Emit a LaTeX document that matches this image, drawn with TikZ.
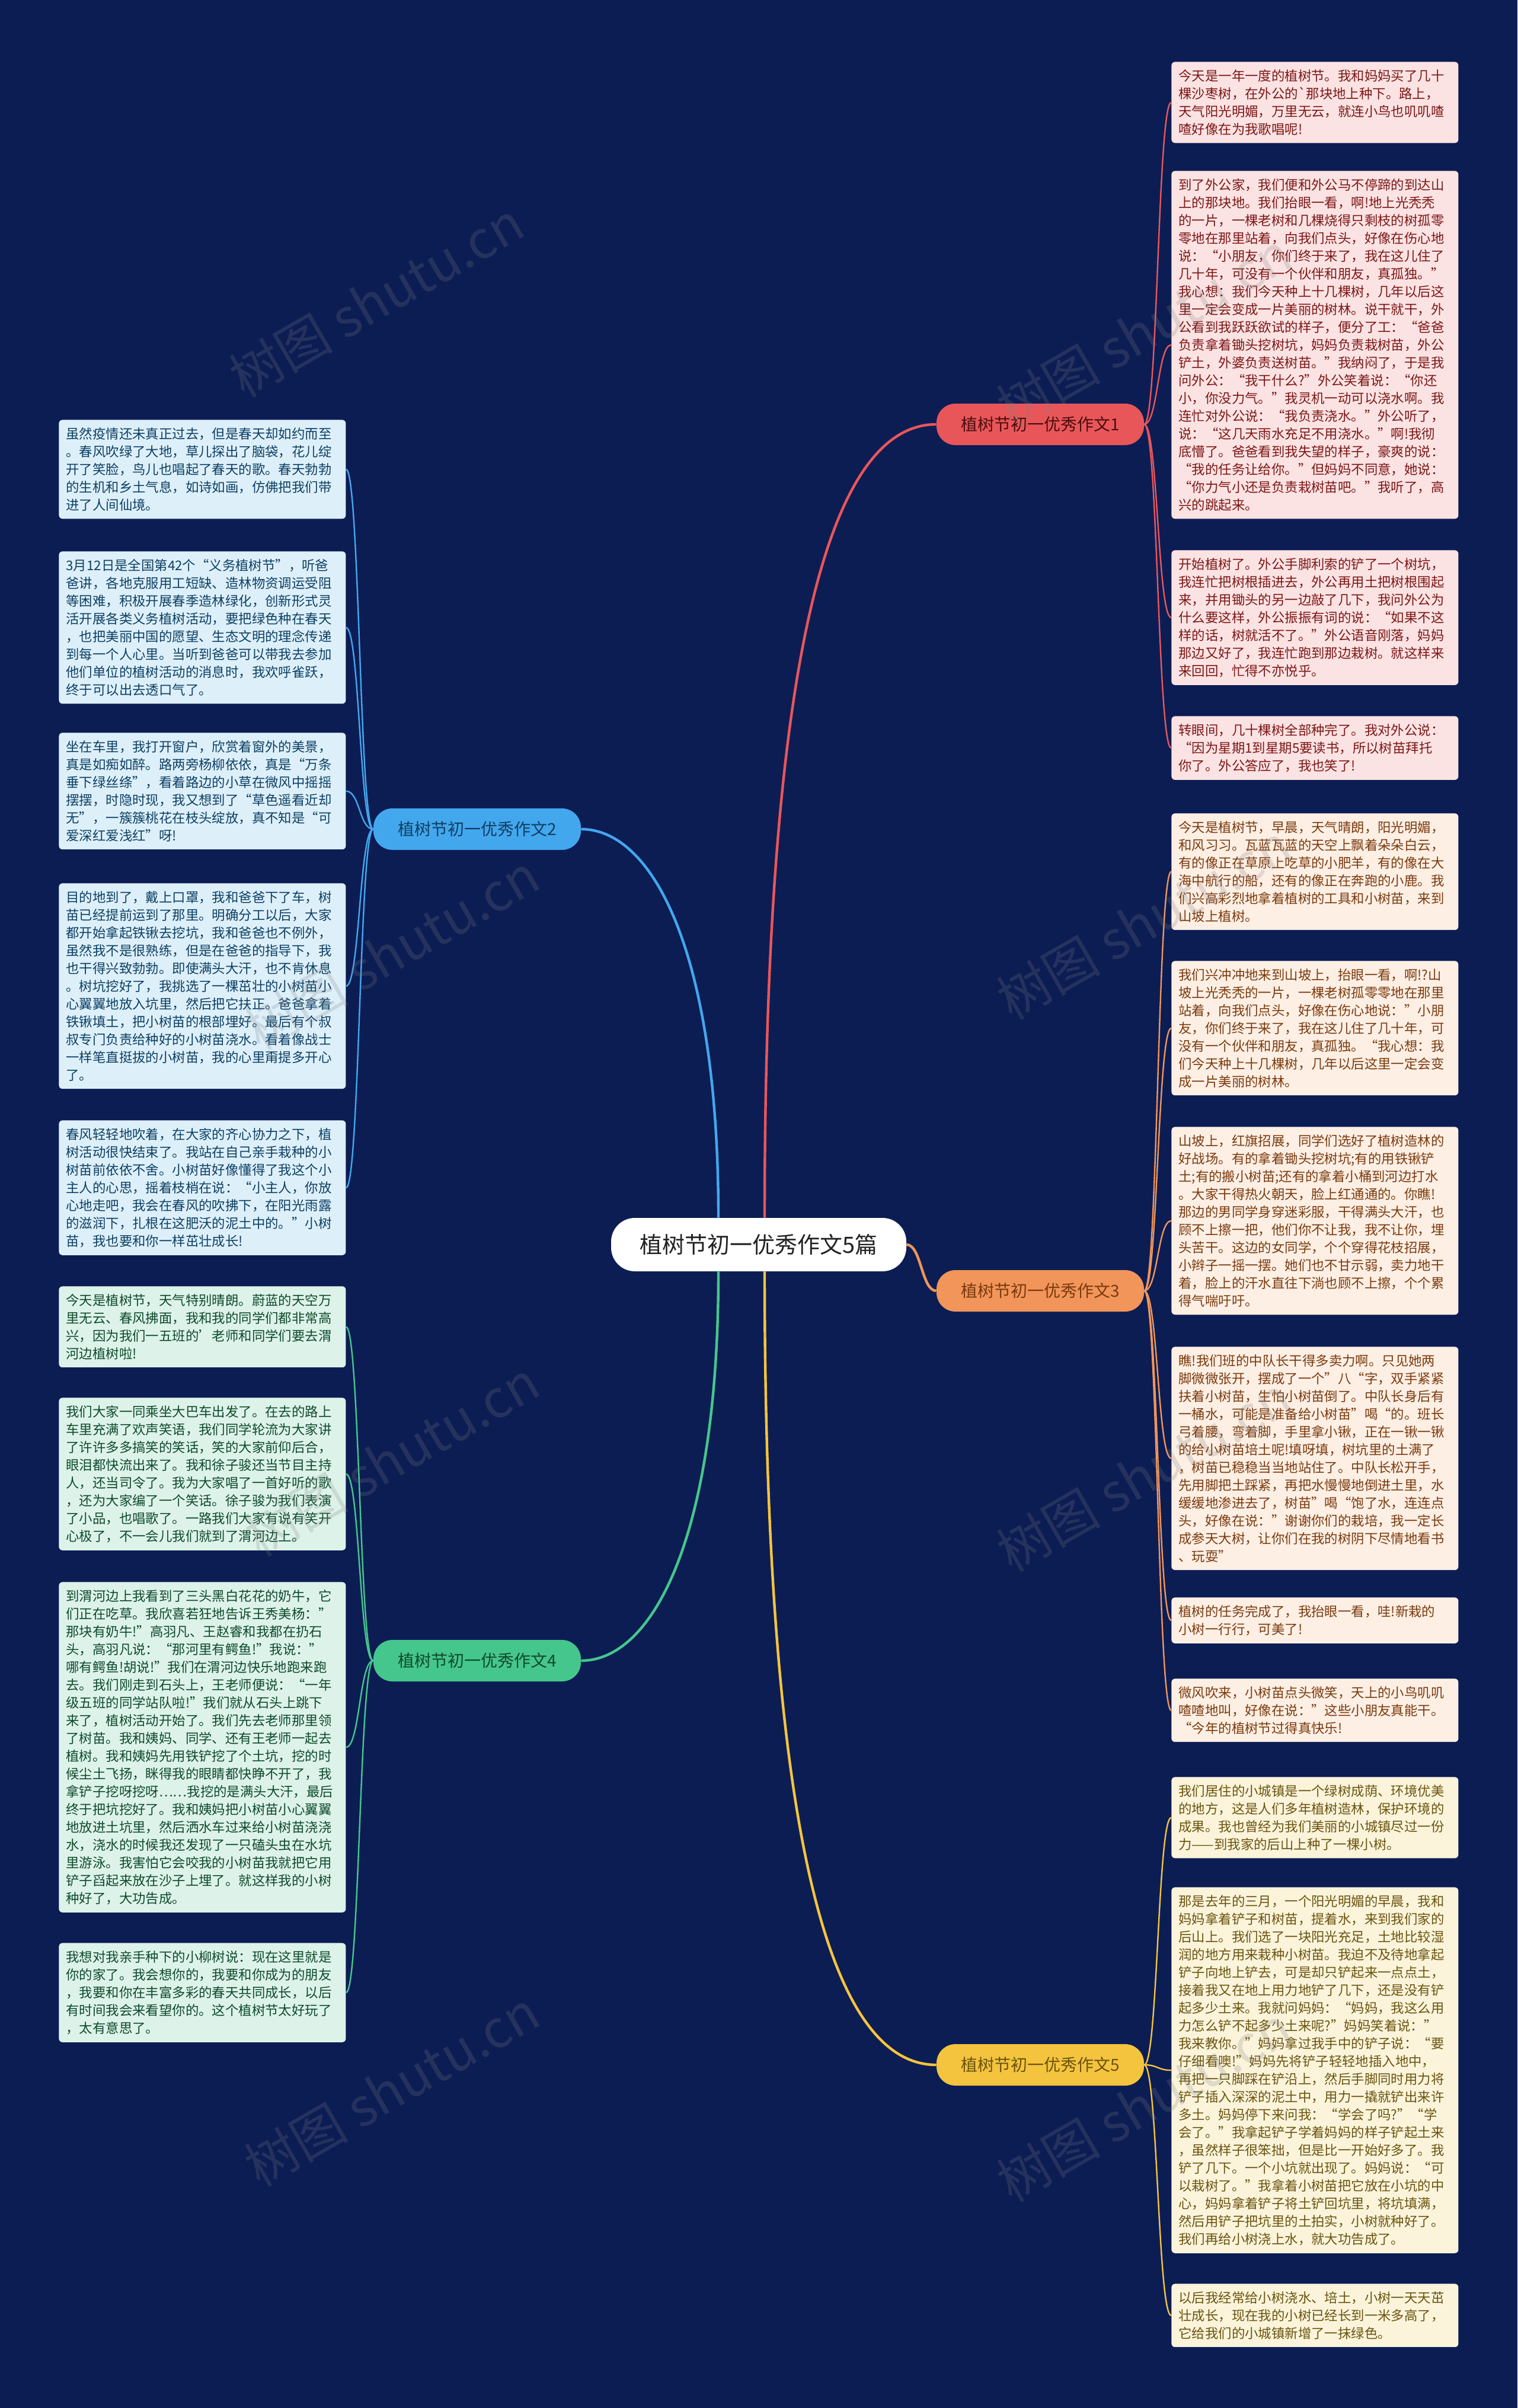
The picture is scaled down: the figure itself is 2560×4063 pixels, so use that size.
\documentclass[tikz,border=0pt]{standalone}
\usepackage{fontspec}
\setmainfont{Noto Sans CJK SC}
\usepackage{xcolor}
\usepackage{tikz}

\definecolor{bgnavy}{HTML}{0C1D54}
\definecolor{redline}{HTML}{E9565A}
\definecolor{redfill}{HTML}{FCE3E3}
\definecolor{redtext}{HTML}{7D1616}
\definecolor{blueline}{HTML}{43A7EE}
\definecolor{bluefill}{HTML}{DDF0FA}
\definecolor{bluetext}{HTML}{0E3F63}
\definecolor{orangeline}{HTML}{F1955A}
\definecolor{orangefill}{HTML}{FDEFE4}
\definecolor{orangetext}{HTML}{7B3A0E}
\definecolor{greenline}{HTML}{45C68C}
\definecolor{greenfill}{HTML}{DDF3EA}
\definecolor{greentext}{HTML}{0F4A2C}
\definecolor{yellowline}{HTML}{F4C43E}
\definecolor{yellowfill}{HTML}{FBF4DB}
\definecolor{yellowtext}{HTML}{6B5410}
\definecolor{roottext}{HTML}{222222}

\newcommand{\leaffont}{\fontsize{11.2pt}{15pt}\selectfont}
\newcommand{\branchfont}{\fontsize{14pt}{17pt}\selectfont}
\newcommand{\rootfont}{\fontsize{19pt}{23pt}\selectfont}
\newcommand{\wmfont}{\fontsize{44pt}{50pt}\selectfont}

\tikzset{
  leaf/.style={anchor=north west, rounded corners=3pt, inner xsep=6pt, inner ysep=6.5pt,
    text width=230pt, align=left, font=\leaffont},
  branch/.style={rounded corners=16pt, minimum width=175pt, minimum height=35pt,
    inner sep=0pt, font=\branchfont},
  mainlink/.style={line width=2.2pt},
  leaflink/.style={line width=1.2pt},
  watermark/.style={rotate=30, text=gray, opacity=0.22, font=\wmfont}
}

\begin{document}
\begin{tikzpicture}[x=0.5pt,y=-0.5pt]
    \useasboundingbox (0,0) rectangle (2560,4063);
    \fill[bgnavy] (0,0) rectangle (2560,4063);

    \node[fill=white, text=roottext, rounded corners=20pt, minimum width=249pt, minimum height=45pt, font=\rootfont] (root) at (1280,2100) {植树节初一优秀作文5篇};

    \node[branch, fill=redline, text=redtext!60!black] (b1) at (1755,716) {植树节初一优秀作文1};
    \node[branch, fill=blueline, text=bluetext] (b2) at (805,1399) {植树节初一优秀作文2};
    \node[branch, fill=orangeline, text=orangetext] (b3) at (1755,2178) {植树节初一优秀作文3};
    \node[branch, fill=greenline, text=greentext] (b4) at (805,2802) {植树节初一优秀作文4};
    \node[branch, fill=yellowline, text=yellowtext] (b5) at (1755,3484) {植树节初一优秀作文5};

    \draw[mainlink, redline] ([xshift=5pt]root.north) .. controls +(0,-950) and +(-180,0) .. (b1.west);
    \draw[mainlink, blueline] ([xshift=-34pt]root.north) .. controls +(0,-450) and +(120,0) .. (b2.east);
    \draw[mainlink, orangeline] (root.east) .. controls +(25,0) and +(-25,0) .. (b3.west);
    \draw[mainlink, greenline] ([xshift=-34pt]root.south) .. controls +(0,450) and +(120,0) .. (b4.east);
    \draw[mainlink, yellowline] ([xshift=5pt]root.south) .. controls +(0,950) and +(-180,0) .. (b5.west);

    % essay 1
    \node[leaf, fill=redfill, text=redtext] (r1a) at (1976,104) {今天是一年一度的植树节。我和妈妈买了几十\\棵沙枣树，在外公的\textasciigrave 那块地上种下。路上，\\天气阳光明媚，万里无云，就连小鸟也叽叽喳\\喳好像在为我歌唱呢!};
    \node[leaf, fill=redfill, text=redtext] (r1b) at (1976,288) {到了外公家，我们便和外公马不停蹄的到达山\\上的那块地。我们抬眼一看，啊!地上光秃秃\\的一片，一棵老树和几棵烧得只剩枝的树孤零\\零地在那里站着，向我们点头，好像在伤心地\\说：“小朋友，你们终于来了，我在这儿住了\\几十年，可没有一个伙伴和朋友，真孤独。”\\我心想：我们今天种上十几棵树，几年以后这\\里一定会变成一片美丽的树林。说干就干，外\\公看到我跃跃欲试的样子，便分了工：“爸爸\\负责拿着锄头挖树坑，妈妈负责栽树苗，外公\\铲土，外婆负责送树苗。”我纳闷了，于是我\\问外公：“我干什么?”外公笑着说：“你还\\小，你没力气。”我灵机一动可以浇水啊。我\\连忙对外公说：“我负责浇水。”外公听了，\\说：“这几天雨水充足不用浇水。”啊!我彻\\底懵了。爸爸看到我失望的样子，豪爽的说：\\“我的任务让给你。”但妈妈不同意，她说：\\“你力气小还是负责栽树苗吧。”我听了，高\\兴的跳起来。};
    \node[leaf, fill=redfill, text=redtext] (r1c) at (1976,928) {开始植树了。外公手脚利索的铲了一个树坑，\\我连忙把树根插进去，外公再用土把树根围起\\来，并用锄头的另一边敲了几下，我问外公为\\什么要这样，外公振振有词的说：“如果不这\\样的话，树就活不了。”外公语音刚落，妈妈\\那边又好了，我连忙跑到那边栽树。就这样来\\来回回，忙得不亦悦乎。};
    \node[leaf, fill=redfill, text=redtext] (r1d) at (1976,1208) {转眼间，几十棵树全部种完了。我对外公说：\\“因为星期1到星期5要读书，所以树苗拜托\\你了。外公答应了，我也笑了!};

    % essay 3
    \node[leaf, fill=orangefill, text=orangetext] (r3a) at (1976,1372) {今天是植树节，早晨，天气晴朗，阳光明媚，\\和风习习。瓦蓝瓦蓝的天空上飘着朵朵白云，\\有的像正在草原上吃草的小肥羊，有的像在大\\海中航行的船，还有的像正在奔跑的小鹿。我\\们兴高彩烈地拿着植树的工具和小树苗，来到\\山坡上植树。};
    \node[leaf, fill=orangefill, text=orangetext] (r3b) at (1976,1621) {我们兴冲冲地来到山坡上，抬眼一看，啊!?山\\坡上光秃秃的一片，一棵老树孤零零地在那里\\站着，向我们点头，好像在伤心地说：”小朋\\友，你们终于来了，我在这儿住了几十年，可\\没有一个伙伴和朋友，真孤独。“我心想：我\\们今天种上十几棵树，几年以后这里一定会变\\成一片美丽的树林。};
    \node[leaf, fill=orangefill, text=orangetext] (r3c) at (1976,1901) {山坡上，红旗招展，同学们选好了植树造林的\\好战场。有的拿着锄头挖树坑;有的用铁锹铲\\土;有的搬小树苗;还有的拿着小桶到河边打水\\。大家干得热火朝天，脸上红通通的。你瞧!\\那边的男同学身穿迷彩服，干得满头大汗，也\\顾不上擦一把，他们你不让我，我不让你，埋\\头苦干。这边的女同学，个个穿得花枝招展，\\小辫子一摇一摆。她们也不甘示弱，卖力地干\\着，脸上的汗水直往下淌也顾不上擦，个个累\\得气喘吁吁。};
    \node[leaf, fill=orangefill, text=orangetext] (r3d) at (1976,2272) {瞧!我们班的中队长干得多卖力啊。只见她两\\脚微微张开，摆成了一个”八“字，双手紧紧\\扶着小树苗，生怕小树苗倒了。中队长身后有\\一桶水，可能是准备给小树苗”喝“的。班长\\弓着腰，弯着脚，手里拿小锹，正在一锹一锹\\的给小树苗培土呢!填呀填，树坑里的土满了\\，树苗已稳稳当当地站住了。中队长松开手，\\先用脚把土踩紧，再把水慢慢地倒进土里，水\\缓缓地渗进去了，树苗”喝“饱了水，连连点\\头，好像在说：”谢谢你们的栽培，我一定长\\成参天大树，让你们在我的树阴下尽情地看书\\、玩耍”};
    \node[leaf, fill=orangefill, text=orangetext] (r3e) at (1976,2695) {植树的任务完成了，我抬眼一看，哇!新栽的\\小树一行行，可美了!};
    \node[leaf, fill=orangefill, text=orangetext] (r3f) at (1976,2832) {微风吹来，小树苗点头微笑，天上的小鸟叽叽\\喳喳地叫，好像在说：”这些小朋友真能干。\\“今年的植树节过得真快乐!};

    % essay 5
    \node[leaf, fill=yellowfill, text=yellowtext] (r5a) at (1976,2998) {我们居住的小城镇是一个绿树成荫、环境优美\\的地方，这是人们多年植树造林，保护环境的\\成果。我也曾经为我们美丽的小城镇尽过一份\\力——到我家的后山上种了一棵小树。};
    \node[leaf, fill=yellowfill, text=yellowtext] (r5b) at (1976,3184) {那是去年的三月，一个阳光明媚的早晨，我和\\妈妈拿着铲子和树苗，提着水，来到我们家的\\后山上。我们选了一块阳光充足，土地比较湿\\润的地方用来栽种小树苗。我迫不及待地拿起\\铲子向地上铲去，可是却只铲起来一点点土，\\接着我又在地上用力地铲了几下，还是没有铲\\起多少土来。我就问妈妈：“妈妈，我这么用\\力怎么铲不起多少土来呢?”妈妈笑着说：”\\我来教你。”妈妈拿过我手中的铲子说：“要\\仔细看噢!”妈妈先将铲子轻轻地插入地中，\\再把一只脚踩在铲沿上，然后手脚同时用力将\\铲子插入深深的泥土中，用力一撬就铲出来许\\多土。妈妈停下来问我：“学会了吗?”“学\\会了。”我拿起铲子学着妈妈的样子铲起土来\\，虽然样子很笨拙，但是比一开始好多了。我\\铲了几下。一个小坑就出现了。妈妈说：“可\\以栽树了。”我拿着小树苗把它放在小坑的中\\心，妈妈拿着铲子将土铲回坑里，将坑填满，\\然后用铲子把坑里的土拍实，小树就种好了。\\我们再给小树浇上水，就大功告成了。};
    \node[leaf, fill=yellowfill, text=yellowtext] (r5c) at (1976,3853) {以后我经常给小树浇水、培土，小树一天天茁\\壮成长，现在我的小树已经长到一米多高了，\\它给我们的小城镇新增了一抹绿色。};

    % essay 2
    \node[leaf, fill=bluefill, text=bluetext] (l2a) at (99,708) {虽然疫情还未真正过去，但是春天却如约而至\\。春风吹绿了大地，草儿探出了脑袋，花儿绽\\开了笑脸，鸟儿也唱起了春天的歌。春天勃勃\\的生机和乡土气息，如诗如画，仿佛把我们带\\进了人间仙境。};
    \node[leaf, fill=bluefill, text=bluetext] (l2b) at (99,930) {3月12日是全国第42个“义务植树节”，听爸\\爸讲，各地克服用工短缺、造林物资调运受阻\\等困难，积极开展春季造林绿化，创新形式灵\\活开展各类义务植树活动，要把绿色种在春天\\，也把美丽中国的愿望、生态文明的理念传递\\到每一个人心里。当听到爸爸可以带我去参加\\他们单位的植树活动的消息时，我欢呼雀跃，\\终于可以出去透口气了。};
    \node[leaf, fill=bluefill, text=bluetext] (l2c) at (99,1236) {坐在车里，我打开窗户，欣赏着窗外的美景，\\真是如痴如醉。路两旁杨柳依依，真是“万条\\垂下绿丝绦”，看着路边的小草在微风中摇摇\\摆摆，时隐时现，我又想到了“草色遥看近却\\无”，一簇簇桃花在枝头绽放，真不知是“可\\爱深红爱浅红”呀!};
    \node[leaf, fill=bluefill, text=bluetext] (l2d) at (99,1490) {目的地到了，戴上口罩，我和爸爸下了车，树\\苗已经提前运到了那里。明确分工以后，大家\\都开始拿起铁锹去挖坑，我和爸爸也不例外，\\虽然我不是很熟练，但是在爸爸的指导下，我\\也干得兴致勃勃。即使满头大汗，也不肯休息\\。树坑挖好了，我挑选了一棵茁壮的小树苗小\\心翼翼地放入坑里，然后把它扶正。爸爸拿着\\铁锹填土，把小树苗的根部埋好。最后有个叔\\叔专门负责给种好的小树苗浇水。看着像战士\\一样笔直挺拔的小树苗，我的心里甭提多开心\\了。};
    \node[leaf, fill=bluefill, text=bluetext] (l2e) at (99,1890) {春风轻轻地吹着，在大家的齐心协力之下，植\\树活动很快结束了。我站在自己亲手栽种的小\\树苗前依依不舍。小树苗好像懂得了我这个小\\主人的心思，摇着枝梢在说：“小主人，你放\\心地走吧，我会在春风的吹拂下，在阳光雨露\\的滋润下，扎根在这肥沃的泥土中的。”小树\\苗，我也要和你一样茁壮成长!};

    % essay 4
    \node[leaf, fill=greenfill, text=greentext] (l4a) at (99,2170) {今天是植树节，天气特别晴朗。蔚蓝的天空万\\里无云、春风拂面，我和我的同学们都非常高\\兴，因为我们一五班的'老师和同学们要去渭\\河边植树啦!};
    \node[leaf, fill=greenfill, text=greentext] (l4b) at (99,2358) {我们大家一同乘坐大巴车出发了。在去的路上\\车里充满了欢声笑语，我们同学轮流为大家讲\\了许许多多搞笑的笑话，笑的大家前仰后合，\\眼泪都快流出来了。我和徐子骏还当节目主持\\人，还当司令了。我为大家唱了一首好听的歌\\，还为大家编了一个笑话。徐子骏为我们表演\\了小品，也唱歌了。一路我们大家有说有笑开\\心极了，不一会儿我们就到了渭河边上。};
    \node[leaf, fill=greenfill, text=greentext] (l4c) at (99,2669) {到渭河边上我看到了三头黑白花花的奶牛，它\\们正在吃草。我欣喜若狂地告诉王秀美杨：”\\那块有奶牛!”高羽凡、王赵睿和我都在扔石\\头，高羽凡说：“那河里有鳄鱼!”我说：”\\哪有鳄鱼!胡说!”我们在渭河边快乐地跑来跑\\去。我们刚走到石头上，王老师便说：“一年\\级五班的同学站队啦!”我们就从石头上跳下\\来了，植树活动开始了。我们先去老师那里领\\了树苗。我和姨妈、同学、还有王老师一起去\\植树。我和姨妈先用铁铲挖了个土坑，挖的时\\候尘土飞扬，眯得我的眼睛都快睁不开了，我\\拿铲子挖呀挖呀……我挖的是满头大汗，最后\\终于把坑挖好了。我和姨妈把小树苗小心翼翼\\地放进土坑里，然后洒水车过来给小树苗浇浇\\水，浇水的时候我还发现了一只磕头虫在水坑\\里游泳。我害怕它会咬我的小树苗我就把它用\\铲子舀起来放在沙子上埋了。就这样我的小树\\种好了，大功告成。};
    \node[leaf, fill=greenfill, text=greentext] (l4d) at (99,3278) {我想对我亲手种下的小柳树说：现在这里就是\\你的家了。我会想你的，我要和你成为的朋友\\，我要和你在丰富多彩的春天共同成长，以后\\有时间我会来看望你的。这个植树节太好玩了\\，太有意思了。};

    \draw[leaflink, redline] (b1.east) .. controls +(23,0) and +(-23,0) .. (r1a.west);
    \draw[leaflink, redline] (b1.east) .. controls +(23,0) and +(-23,0) .. (r1b.west);
    \draw[leaflink, redline] (b1.east) .. controls +(23,0) and +(-23,0) .. (r1c.west);
    \draw[leaflink, redline] (b1.east) .. controls +(23,0) and +(-23,0) .. (r1d.west);

    \draw[leaflink, orangeline] (b3.east) .. controls +(23,0) and +(-23,0) .. (r3a.west);
    \draw[leaflink, orangeline] (b3.east) .. controls +(23,0) and +(-23,0) .. (r3b.west);
    \draw[leaflink, orangeline] (b3.east) .. controls +(23,0) and +(-23,0) .. (r3c.west);
    \draw[leaflink, orangeline] (b3.east) .. controls +(23,0) and +(-23,0) .. (r3d.west);
    \draw[leaflink, orangeline] (b3.east) .. controls +(23,0) and +(-23,0) .. (r3e.west);
    \draw[leaflink, orangeline] (b3.east) .. controls +(23,0) and +(-23,0) .. (r3f.west);

    \draw[leaflink, yellowline] (b5.east) .. controls +(23,0) and +(-23,0) .. (r5a.west);
    \draw[leaflink, yellowline] (b5.east) .. controls +(23,0) and +(-23,0) .. (r5b.west);
    \draw[leaflink, yellowline] (b5.east) .. controls +(23,0) and +(-23,0) .. (r5c.west);

    \draw[leaflink, blueline] (b2.west) .. controls +(-23,0) and +(23,0) .. (l2a.east);
    \draw[leaflink, blueline] (b2.west) .. controls +(-23,0) and +(23,0) .. (l2b.east);
    \draw[leaflink, blueline] (b2.west) .. controls +(-23,0) and +(23,0) .. (l2c.east);
    \draw[leaflink, blueline] (b2.west) .. controls +(-23,0) and +(23,0) .. (l2d.east);
    \draw[leaflink, blueline] (b2.west) .. controls +(-23,0) and +(23,0) .. (l2e.east);

    \draw[leaflink, greenline] (b4.west) .. controls +(-23,0) and +(23,0) .. (l4a.east);
    \draw[leaflink, greenline] (b4.west) .. controls +(-23,0) and +(23,0) .. (l4b.east);
    \draw[leaflink, greenline] (b4.west) .. controls +(-23,0) and +(23,0) .. (l4c.east);
    \draw[leaflink, greenline] (b4.west) .. controls +(-23,0) and +(23,0) .. (l4d.east);

    \node[watermark] (wm1) at (635,505) {树图 shutu.cn};
    \node[watermark] (wm2) at (1930,557) {树图 shutu.cn};
    \node[watermark] (wm3) at (661,1606) {树图 shutu.cn};
    \node[watermark] (wm4) at (1930,1555) {树图 shutu.cn};
    \node[watermark] (wm5) at (661,2461) {树图 shutu.cn};
    \node[watermark] (wm6) at (1930,2487) {树图 shutu.cn};
    \node[watermark] (wm7) at (661,3524) {树图 shutu.cn};
    \node[watermark] (wm8) at (1930,3550) {树图 shutu.cn};
\end{tikzpicture}
\end{document}
